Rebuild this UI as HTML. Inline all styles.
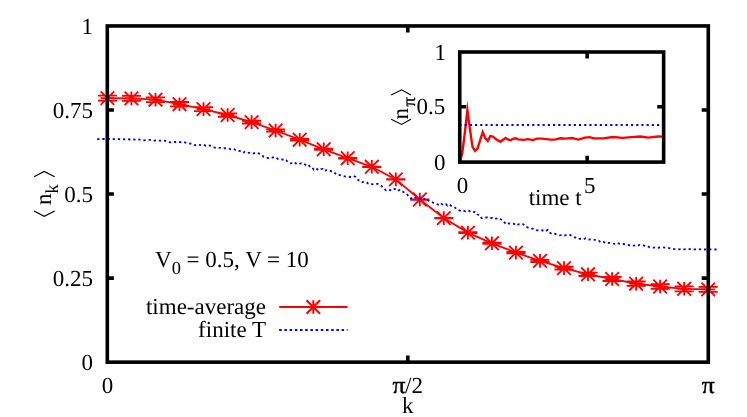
<!DOCTYPE html>
<html><head><meta charset="utf-8"><title>chart</title>
<style>html,body{margin:0;padding:0;background:#fff}svg{display:block;will-change:transform}svg text{font-family:"Liberation Serif",serif;text-rendering:geometricPrecision;}</style></head>
<body>
<svg width="747" height="417" viewBox="0 0 747 417"  font-size="23" fill="#000">
<rect x="0" y="0" width="747" height="417" fill="#fff"/>
<g stroke="#ff0000" stroke-width="1.85" fill="none" stroke-linecap="butt">
<path d="M107.4,98.1 L131.4,98.4 L155.5,99.7 L179.5,104.2 L203.5,109.1 L227.6,115.0 L251.6,122.1 L275.6,130.5 L299.7,139.7 L323.7,149.3 L347.7,158.2 L371.8,166.8 L395.8,179.4 L419.8,199.5 L443.8,218.1 L467.9,232.6 L491.9,243.3 L515.9,252.6 L540.0,260.9 L564.0,268.1 L588.0,274.3 L612.1,279.0 L636.1,283.7 L660.1,286.5 L684.2,288.8 L708.2,289.4"/>
<path d="M100.6,98.1H114.2M107.4,91.3V104.9M100.6,91.3L114.2,104.9M100.6,104.9L114.2,91.3M97.9,95.6H117.0M97.9,100.6H117.0"/>
<path d="M124.6,98.4H138.2M131.4,91.6V105.2M124.6,91.6L138.2,105.2M124.6,105.2L138.2,91.6M121.9,95.9H141.0M121.9,100.9H141.0"/>
<path d="M148.7,99.7H162.3M155.5,92.9V106.5M148.7,92.9L162.3,106.5M148.7,106.5L162.3,92.9M145.9,97.3H165.0M145.9,102.1H165.0"/>
<path d="M172.7,104.2H186.3M179.5,97.4V111.0M172.7,97.4L186.3,111.0M172.7,111.0L186.3,97.4M169.9,102.0H189.0M169.9,106.4H189.0"/>
<path d="M196.7,109.1H210.3M203.5,102.3V115.9M196.7,102.3L210.3,115.9M196.7,115.9L210.3,102.3M194.0,107.1H213.1M194.0,111.1H213.1"/>
<path d="M220.8,115.0H234.4M227.6,108.2V121.8M220.8,108.2L234.4,121.8M220.8,121.8L234.4,108.2M218.0,113.3H237.1M218.0,116.7H237.1"/>
<path d="M244.8,122.1H258.4M251.6,115.3V128.9M244.8,115.3L258.4,128.9M244.8,128.9L258.4,115.3M242.0,120.7H261.1M242.0,123.5H261.1"/>
<path d="M268.8,130.5H282.4M275.6,123.7V137.3M268.8,123.7L282.4,137.3M268.8,137.3L282.4,123.7M266.1,129.4H285.2M266.1,131.6H285.2"/>
<path d="M292.9,139.7H306.5M299.7,132.9V146.5M292.9,132.9L306.5,146.5M292.9,146.5L306.5,132.9M290.1,138.9H309.2M290.1,140.5H309.2"/>
<path d="M316.9,149.3H330.5M323.7,142.5V156.1M316.9,142.5L330.5,156.1M316.9,156.1L330.5,142.5M314.1,148.7H333.2M314.1,149.9H333.2"/>
<path d="M340.9,158.2H354.5M347.7,151.4V165.0M340.9,151.4L354.5,165.0M340.9,165.0L354.5,151.4M338.2,157.8H357.3M338.2,158.6H357.3"/>
<path d="M365.0,166.8H378.6M371.8,160.0V173.6M365.0,160.0L378.6,173.6M365.0,173.6L378.6,160.0M362.2,166.6H381.3M362.2,167.0H381.3"/>
<path d="M389.0,179.4H402.6M395.8,172.6V186.2M389.0,172.6L402.6,186.2M389.0,186.2L402.6,172.6M386.2,179.2H405.3M386.2,179.6H405.3"/>
<path d="M413.0,199.5H426.6M419.8,192.7V206.3M413.0,192.7L426.6,206.3M413.0,206.3L426.6,192.7M410.3,199.3H429.4M410.3,199.7H429.4"/>
<path d="M437.0,218.1H450.6M443.8,211.3V224.9M437.0,211.3L450.6,224.9M437.0,224.9L450.6,211.3M434.3,217.9H453.4M434.3,218.3H453.4"/>
<path d="M461.1,232.6H474.7M467.9,225.8V239.4M461.1,225.8L474.7,239.4M461.1,239.4L474.7,225.8M458.3,232.2H477.4M458.3,233.0H477.4"/>
<path d="M485.1,243.3H498.7M491.9,236.5V250.1M485.1,236.5L498.7,250.1M485.1,250.1L498.7,236.5M482.4,242.7H501.5M482.4,243.9H501.5"/>
<path d="M509.1,252.6H522.7M515.9,245.8V259.4M509.1,245.8L522.7,259.4M509.1,259.4L522.7,245.8M506.4,251.8H525.5M506.4,253.4H525.5"/>
<path d="M533.2,260.9H546.8M540.0,254.1V267.7M533.2,254.1L546.8,267.7M533.2,267.7L546.8,254.1M530.4,259.8H549.5M530.4,262.0H549.5"/>
<path d="M557.2,268.1H570.8M564.0,261.3V274.9M557.2,261.3L570.8,274.9M557.2,274.9L570.8,261.3M554.5,266.7H573.6M554.5,269.5H573.6"/>
<path d="M581.2,274.3H594.8M588.0,267.5V281.1M581.2,267.5L594.8,281.1M581.2,281.1L594.8,267.5M578.5,272.6H597.6M578.5,276.0H597.6"/>
<path d="M605.3,279.0H618.9M612.1,272.2V285.8M605.3,272.2L618.9,285.8M605.3,285.8L618.9,272.2M602.5,277.0H621.6M602.5,281.0H621.6"/>
<path d="M629.3,283.7H642.9M636.1,276.9V290.5M629.3,276.9L642.9,290.5M629.3,290.5L642.9,276.9M626.6,281.5H645.7M626.6,285.9H645.7"/>
<path d="M653.3,286.5H666.9M660.1,279.7V293.3M653.3,279.7L666.9,293.3M653.3,293.3L666.9,279.7M650.6,284.1H669.7M650.6,288.9H669.7"/>
<path d="M677.4,288.8H691.0M684.2,282.0V295.6M677.4,282.0L691.0,295.6M677.4,295.6L691.0,282.0M674.6,286.3H693.7M674.6,291.3H693.7"/>
<path d="M701.4,289.4H715.0M708.2,282.6V296.2M701.4,282.6L715.0,296.2M701.4,296.2L715.0,282.6M698.6,286.9H717.7M698.6,291.9H717.7"/>
</g>
<path d="M97.20,139.00 L98.70,139.20 L100.10,139.10 L101.90,139.00 L103.90,139.00 L105.80,139.00 L107.30,139.10 L109.70,139.00 L111.30,139.10 L114.00,139.10 L115.80,139.30 L117.20,139.30 L118.90,139.10 L120.40,139.30 L122.80,139.20 L124.90,139.40 L126.70,139.40 L128.10,139.20 L129.70,139.50 L131.60,139.30 L133.70,139.40 L135.40,139.60 L137.70,139.30 L139.80,139.60 L142.40,140.00 L144.10,140.40 L145.50,140.20 L147.90,140.00 L149.90,139.90 L152.10,140.50 L154.20,140.60 L155.90,140.50 L158.10,140.50 L160.00,140.70 L162.60,140.50 L164.90,140.60 L167.20,141.80 L169.80,142.40 L171.50,142.00 L173.80,141.80 L175.70,142.00 L177.20,141.90 L179.60,142.00 L181.20,142.40 L183.70,142.10 L185.70,142.70 L188.20,143.40 L190.70,143.70 L192.60,144.40 L195.10,145.30 L196.60,144.40 L198.30,144.60 L200.20,145.10 L201.90,144.40 L203.80,144.90 L205.90,145.80 L208.20,145.40 L210.30,145.70 L211.70,146.30 L214.10,147.40 L216.50,148.00 L218.40,147.80 L220.50,147.90 L221.90,148.20 L223.50,148.50 L224.80,148.10 L226.40,148.30 L228.20,148.30 L230.70,149.30 L232.20,148.90 L234.00,149.10 L235.50,150.00 L238.10,150.80 L240.10,151.20 L241.60,152.10 L243.20,152.90 L244.80,151.70 L247.40,152.70 L248.90,152.80 L250.20,152.90 L252.90,153.60 L255.20,152.80 L257.00,152.80 L259.40,153.60 L261.80,154.80 L263.40,156.70 L266.10,157.90 L268.50,158.00 L270.80,157.10 L272.80,157.50 L274.20,157.00 L275.90,157.60 L278.10,159.10 L280.10,159.20 L282.80,159.50 L284.60,159.00 L286.20,160.10 L287.80,162.10 L290.30,163.40 L292.30,163.20 L294.70,162.30 L296.90,164.20 L299.30,164.10 L301.30,163.10 L303.70,163.60 L306.10,165.20 L308.00,164.60 L310.60,167.30 L312.20,167.30 L313.70,169.60 L316.10,168.30 L318.60,170.30 L320.80,169.20 L322.80,168.90 L324.20,170.80 L326.40,170.10 L329.00,170.20 L331.50,171.30 L333.10,171.50 L334.80,173.00 L336.90,174.90 L338.80,174.80 L341.40,175.60 L343.30,176.30 L345.90,176.30 L348.50,176.70 L350.50,177.00 L351.80,176.90 L353.40,176.10 L355.80,177.00 L357.80,179.90 L359.90,180.80 L361.90,182.30 L364.30,181.60 L366.40,182.10 L368.10,183.50 L370.10,183.20 L372.40,184.30 L374.40,183.80 L376.40,183.80 L378.60,183.90 L380.70,185.10 L383.30,187.90 L385.80,190.10 L387.50,189.40 L390.10,190.30 L391.60,188.80 L393.50,188.90 L395.20,189.10 L397.40,191.00 L400.00,189.80 L402.30,191.30 L403.80,192.20 L406.40,193.50 L409.00,196.80 L411.00,198.50 L413.50,196.80 L415.40,197.90 L417.20,197.40 L418.90,198.90 L420.20,198.70 L422.20,197.70 L423.90,199.30 L425.90,198.20 L428.60,200.80 L431.30,201.40 L433.00,202.60 L435.30,203.50 L436.80,204.00 L439.40,205.20 L441.10,203.80 L443.60,205.00 L445.90,204.10 L447.30,205.60 L449.20,204.40 L451.80,206.20 L454.20,207.00 L456.70,209.10 L459.20,210.50 L461.00,210.90 L463.60,210.60 L465.10,211.30 L466.70,210.50 L468.30,210.60 L469.80,211.30 L471.60,212.50 L473.30,212.10 L474.80,211.90 L476.20,212.30 L477.50,214.50 L479.50,215.00 L481.50,218.10 L483.00,218.00 L484.90,217.50 L487.30,217.50 L489.30,218.40 L492.00,217.90 L494.50,219.00 L496.70,218.50 L498.50,218.00 L499.90,218.30 L502.30,220.60 L503.80,221.50 L506.30,224.40 L508.50,223.40 L510.20,223.60 L512.10,223.50 L514.00,223.90 L516.70,225.60 L518.70,224.30 L521.40,224.70 L523.20,224.20 L525.00,226.20 L527.00,227.10 L529.00,228.10 L530.70,228.60 L532.60,228.70 L533.90,229.30 L535.50,230.00 L537.60,230.40 L539.80,230.60 L542.30,230.20 L544.10,231.40 L545.60,231.10 L547.80,230.00 L550.30,233.10 L552.40,234.20 L554.90,233.80 L556.90,234.60 L559.40,235.30 L561.80,235.10 L564.40,235.50 L566.60,234.90 L568.00,234.80 L569.80,234.90 L572.30,236.00 L574.40,237.20 L576.70,238.10 L578.00,239.00 L580.30,238.70 L582.40,239.00 L583.80,239.20 L585.40,238.30 L587.10,239.40 L588.70,239.50 L591.40,239.30 L593.20,239.40 L595.50,240.00 L597.60,240.70 L599.00,240.80 L600.70,242.40 L602.40,242.50 L603.70,241.90 L605.40,242.90 L607.70,243.00 L609.40,242.90 L611.30,243.00 L612.80,243.60 L614.40,243.80 L617.00,242.70 L618.90,243.70 L621.60,243.80 L623.30,244.00 L625.90,244.70 L628.00,244.70 L630.00,245.60 L631.50,245.50 L633.50,245.70 L635.80,245.10 L638.40,245.40 L639.70,245.00 L641.70,245.50 L643.40,245.30 L645.20,245.90 L647.70,246.30 L650.00,247.50 L651.50,247.70 L653.80,247.70 L655.50,247.30 L657.40,247.90 L659.50,247.50 L661.40,247.50 L662.70,247.40 L665.20,247.60 L667.80,247.70 L669.50,248.10 L671.10,248.40 L673.70,249.10 L676.10,249.00 L678.70,249.30 L680.80,249.20 L682.20,249.20 L684.10,249.30 L686.30,249.10 L687.70,249.40 L689.10,249.20 L690.90,249.10 L693.20,249.40 L694.90,249.40 L696.60,249.40 L698.50,249.20 L700.00,249.30 L702.60,249.40 L704.20,249.50 L706.90,249.40 L708.40,249.30 L709.80,249.40 L711.20,249.30 L712.90,249.40 L715.40,249.50 L716.62,249.44" fill="none" stroke="#0000ff" stroke-width="1.8" stroke-dasharray="2.3 2.867"/>
<g stroke="#ff0000" stroke-width="2" fill="none"><path d="M279.2,307.0H347.5"/>
<path d="M313.3,300.2V313.8M306.5,300.2L320.1,313.8M306.5,313.8L320.1,300.2"/></g>
<path d="M279.2,330H347.5" stroke="#0000ff" stroke-width="2.1" stroke-dasharray="2.5 2.7" fill="none"/>
<text x="266" y="314.3" text-anchor="end">time-average</text>
<text x="266" y="337.1" text-anchor="end">finite T</text>
<text x="155" y="266.8">V<tspan font-size="18.4" dy="6.9">0</tspan><tspan dy="-6.9"> = 0.5, V = 10</tspan></text>
<g stroke="#000" stroke-width="3.6" fill="none" stroke-linecap="butt">
<rect x="107.3" y="25.95" width="601.0" height="336.2"/>
<path d="M107.3,278.14h6.6M708.3,278.14h-6.6"/>
<path d="M107.3,194.07h6.6M708.3,194.07h-6.6"/>
<path d="M107.3,110.01h6.6M708.3,110.01h-6.6"/>
<path d="M407.80,362.2v-6.6M407.80,25.95v6.6"/>
</g>
<text x="92.9" y="370.0" text-anchor="end">0</text>
<text x="92.9" y="285.9" text-anchor="end">0.25</text>
<text x="92.9" y="201.9" text-anchor="end">0.5</text>
<text x="92.9" y="117.8" text-anchor="end">0.75</text>
<text x="92.9" y="33.7" text-anchor="end">1</text>
<text x="107.5" y="392.6" text-anchor="middle">0</text>
<text transform="translate(392.4,392.5) scale(1.12,1.04)" stroke="#000" stroke-width="0.35">π</text>
<text x="405.0" y="392.5">/2</text>
<text transform="translate(708.2,392.5) scale(1.12,1.04)" text-anchor="middle" stroke="#000" stroke-width="0.35">π</text>
<text x="407.8" y="413" text-anchor="middle">k</text>
<g stroke="#000" stroke-width="1.1" fill="none"><path d="M34,176.8L44.2,171.4L54.7,176.8"/><path d="M34,210.9L44.2,216.3L54.7,210.9"/></g>
<text transform="translate(51.1,205.0) rotate(-90)">n<tspan font-size="18.4" dy="6.9">k</tspan></text>
<path d="M459.8,162.0 L462.3,153.0 L464.8,133.0 L467.4,110.0 L469.9,128.9 L472.5,146.8 L475.0,150.8 L477.6,148.4 L480.1,140.4 L482.7,132.2 L485.2,138.0 L487.8,140.9 L490.3,136.1 L492.9,136.6 L495.4,138.7 L498.0,140.4 L500.5,141.8 L503.1,139.8 L505.6,138.0 L508.2,139.6 L510.7,140.2 L513.3,138.6 L515.8,138.3 L518.0,139.4 L523.9,139.9 L527.7,139.1 L533.0,140.1 L536.8,138.6 L542.1,138.6 L550.7,139.6 L555.0,139.6 L560.3,138.3 L565.7,138.6 L572.1,138.0 L578.5,139.6 L584.9,137.6 L589.8,137.2 L593.6,138.3 L603.2,138.3 L612.8,137.0 L622.5,137.8 L631.0,137.2 L640.7,136.5 L648.2,137.6 L657.8,136.5 L663.0,136.7" stroke="#ff0000" stroke-width="2.35" fill="none" stroke-linejoin="miter" stroke-miterlimit="12"/>
<path d="M459.4,125.05H663.6" stroke="#0000ff" stroke-width="2.1" stroke-dasharray="2.15 3.05" fill="none"/>
<g stroke="#000" stroke-width="3.6" fill="none">
<rect x="459.75" y="52.0" width="203.9" height="110.1"/>
<path d="M459.75,106.70h6.4M663.6,106.70h-6.4"/>
<path d="M587.16,162.1v-6.4M587.16,52.0v6.4"/>
</g>
<text x="445.4" y="169.5" text-anchor="end">0</text>
<text x="445.2" y="114.0" text-anchor="end">0.5</text>
<text x="445.9" y="60.2" text-anchor="end">1</text>
<text x="462.4" y="192.7" text-anchor="middle">0</text>
<text x="589.8" y="192.7" text-anchor="middle">5</text>
<text x="555.2" y="204.6" text-anchor="middle">time t</text>
<g stroke="#000" stroke-width="1.1" fill="none"><path d="M391.2,94.9L401.6,89.8L410.9,94.9"/><path d="M391.2,119.3L401.6,124.4L410.9,119.3"/></g>
<text transform="translate(408.2,119.4) rotate(-90)">n<tspan font-size="18.4" dy="6.9" dx="1.5" stroke="#000" stroke-width="0.3">π</tspan></text>
</svg>
</body></html>
